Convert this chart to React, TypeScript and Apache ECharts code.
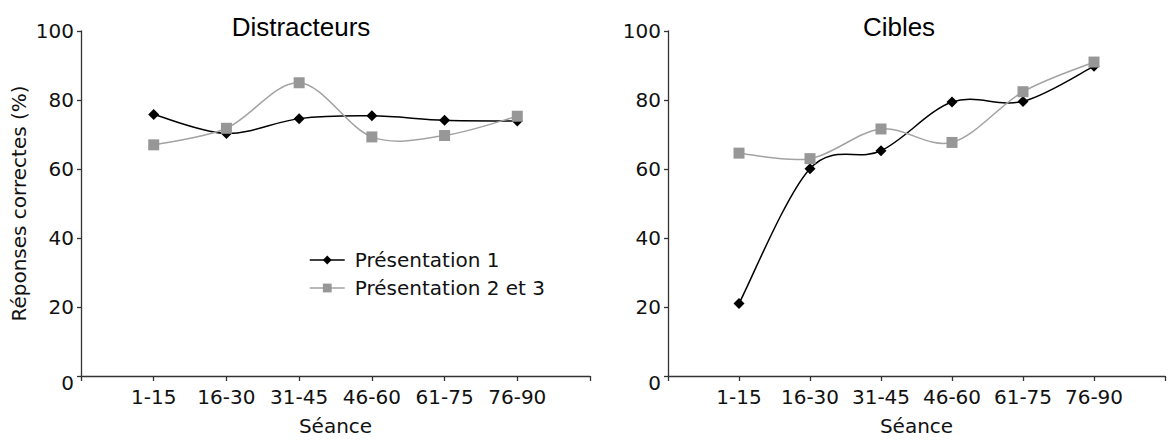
import React, { useEffect, useRef } from 'react';
import * as echarts from 'echarts';

const sessions = ['1-15', '16-30', '31-45', '46-60', '61-75', '76-90'];
const yTicks = [0, 20, 40, 60, 80, 100];
const seriesNames = ['Présentation 1', 'Présentation 2 et 3'];
const distP1 = [75.8, 70.3, 74.6, 75.4, 74.1, 73.9];
const distP23 = [67.0, 71.8, 85.0, 69.3, 69.7, 75.3];
const ciblesP1 = [21.0, 60.1, 65.3, 79.4, 79.6, 89.8];
const ciblesP23 = [64.6, 63.0, 71.6, 67.7, 82.4, 91.0];

const FONT = 'DejaVu Sans';
const FS = 20;
const AXIS_COLOR = '#333';
const TEXT_COLOR = '#111';
const BLACK = '#000';
const GRAY_MARK = '#979797';
const GRAY_LINE = '#a3a3a3';

const toPoints = (vals: number[]) => vals.map((v, i) => [i + 1, v]);

export default function App() {
  const ref = useRef<HTMLDivElement>(null);
  useEffect(() => {
    if (!ref.current) return;
    const chart = echarts.init(ref.current, undefined, { renderer: 'svg' });
    const mkX = (idx: number) => ({
      type: 'value',
      gridIndex: idx,
      min: 0,
      max: sessions.length + 1,
      interval: 1,
      name: 'Séance',
      nameLocation: 'middle',
      nameGap: 40,
      nameTextStyle: { fontFamily: FONT, fontSize: FS, color: TEXT_COLOR },
      axisLine: { show: true, lineStyle: { color: AXIS_COLOR, width: 1.3 } },
      axisTick: { show: true, length: 5, lineStyle: { color: AXIS_COLOR, width: 1.3 } },
      axisLabel: {
        margin: 11,
        fontFamily: FONT,
        fontSize: FS,
        color: TEXT_COLOR,
        showMinLabel: true,
        showMaxLabel: true,
        formatter: (v: number) => sessions[v - 1] ?? '',
      },
      splitLine: { show: false },
    });
    const mkY = (idx: number, withName: boolean) => ({
      type: 'value',
      gridIndex: idx,
      min: yTicks[0],
      max: yTicks[yTicks.length - 1],
      interval: yTicks[1] - yTicks[0],
      name: withName ? 'Réponses correctes (%)' : '',
      nameLocation: 'middle',
      nameRotate: 90,
      nameGap: 52,
      nameTextStyle: { fontFamily: FONT, fontSize: FS, color: TEXT_COLOR },
      axisLine: { show: true, lineStyle: { color: AXIS_COLOR, width: 1.3 } },
      axisTick: { show: true, length: 4, lineStyle: { color: AXIS_COLOR, width: 1.3 } },
      axisLabel: {
        margin: 7,
        fontFamily: FONT,
        fontSize: FS,
        color: TEXT_COLOR,
        formatter: (v: number) => (v === yTicks[0] ? '{low|' + v + '}' : String(v)),
        rich: {
          low: { fontFamily: FONT, fontSize: FS, color: TEXT_COLOR, padding: [14, 0, 0, 0] },
        },
      },
      splitLine: { show: false },
    });
    // smooth curve (Catmull-Rom style, as in spreadsheet smoothed lines) drawn through the axes' scales
    const mkCurve = (vals: number[], idx: number, color: string, z: number) => ({
      type: 'custom',
      xAxisIndex: idx,
      yAxisIndex: idx,
      silent: true,
      z,
      data: toPoints(vals),
      renderItem: (params: any, api: any) => {
        const i = params.dataIndex;
        if (i >= vals.length - 1) return null;
        const c = (j: number) => {
          const k = Math.max(0, Math.min(vals.length - 1, j));
          return api.coord([k + 1, vals[k]]);
        };
        const p0 = c(i - 1);
        const p1 = c(i);
        const p2 = c(i + 1);
        const p3 = c(i + 2);
        return {
          type: 'bezierCurve',
          shape: {
            x1: p1[0],
            y1: p1[1],
            x2: p2[0],
            y2: p2[1],
            cpx1: p1[0] + (p2[0] - p0[0]) / 6,
            cpy1: p1[1] + (p2[1] - p0[1]) / 6,
            cpx2: p2[0] - (p3[0] - p1[0]) / 6,
            cpy2: p2[1] - (p3[1] - p1[1]) / 6,
          },
          style: { stroke: color, lineWidth: 1.5, fill: null },
        };
      },
    });
    const mkMarks = (name: string, vals: number[], idx: number, black: boolean, z: number) => ({
      name,
      type: 'line',
      xAxisIndex: idx,
      yAxisIndex: idx,
      data: toPoints(vals),
      symbol: black ? 'diamond' : 'rect',
      symbolSize: 11,
      z,
      itemStyle: { color: black ? BLACK : GRAY_MARK },
      lineStyle: { width: 0, opacity: 0 },
    });
    chart.setOption({
      animation: false,
      grid: [
        { left: 81, top: 31, width: 509, height: 351 },
        { left: 668, top: 31, width: 509, height: 351 },
      ],
      xAxis: [mkX(0), mkX(1)],
      yAxis: [mkY(0, true), mkY(1, false)],
      legend: {
        data: [
          { name: seriesNames[0], lineStyle: { color: BLACK, width: 1.5, opacity: 1 } },
          { name: seriesNames[1], lineStyle: { color: GRAY_LINE, width: 1.5, opacity: 1 } },
        ],
        orient: 'vertical',
        left: 304,
        top: 245,
        itemWidth: 35,
        itemHeight: 11,
        itemGap: 8,
        textStyle: { fontFamily: FONT, fontSize: FS, color: TEXT_COLOR, padding: [0, 0, 0, 5] },
      },
      graphic: [
        {
          type: 'text',
          x: 301,
          y: 27,
          style: {
            text: 'Distracteurs',
            fontFamily: 'Liberation Sans',
            fontSize: 26,
            fill: '#000',
            textAlign: 'center',
            textVerticalAlign: 'middle',
          },
        },
        {
          type: 'text',
          x: 899,
          y: 27,
          style: {
            text: 'Cibles',
            fontFamily: 'Liberation Sans',
            fontSize: 26,
            fill: '#000',
            textAlign: 'center',
            textVerticalAlign: 'middle',
          },
        },
      ],
      series: [
        mkCurve(distP1, 0, BLACK, 2),
        mkMarks(seriesNames[0], distP1, 0, true, 3),
        mkCurve(distP23, 0, GRAY_LINE, 4),
        mkMarks(seriesNames[1], distP23, 0, false, 5),
        mkCurve(ciblesP1, 1, BLACK, 2),
        mkMarks(seriesNames[0], ciblesP1, 1, true, 3),
        mkCurve(ciblesP23, 1, GRAY_LINE, 4),
        mkMarks(seriesNames[1], ciblesP23, 1, false, 5),
      ],
    });
    return () => chart.dispose();
  }, []);
  return (
    <div
      ref={ref}
      style={{ position: 'absolute', left: 0, top: 0, width: 1168, height: 441, background: '#fff' }}
    />
  );
}
